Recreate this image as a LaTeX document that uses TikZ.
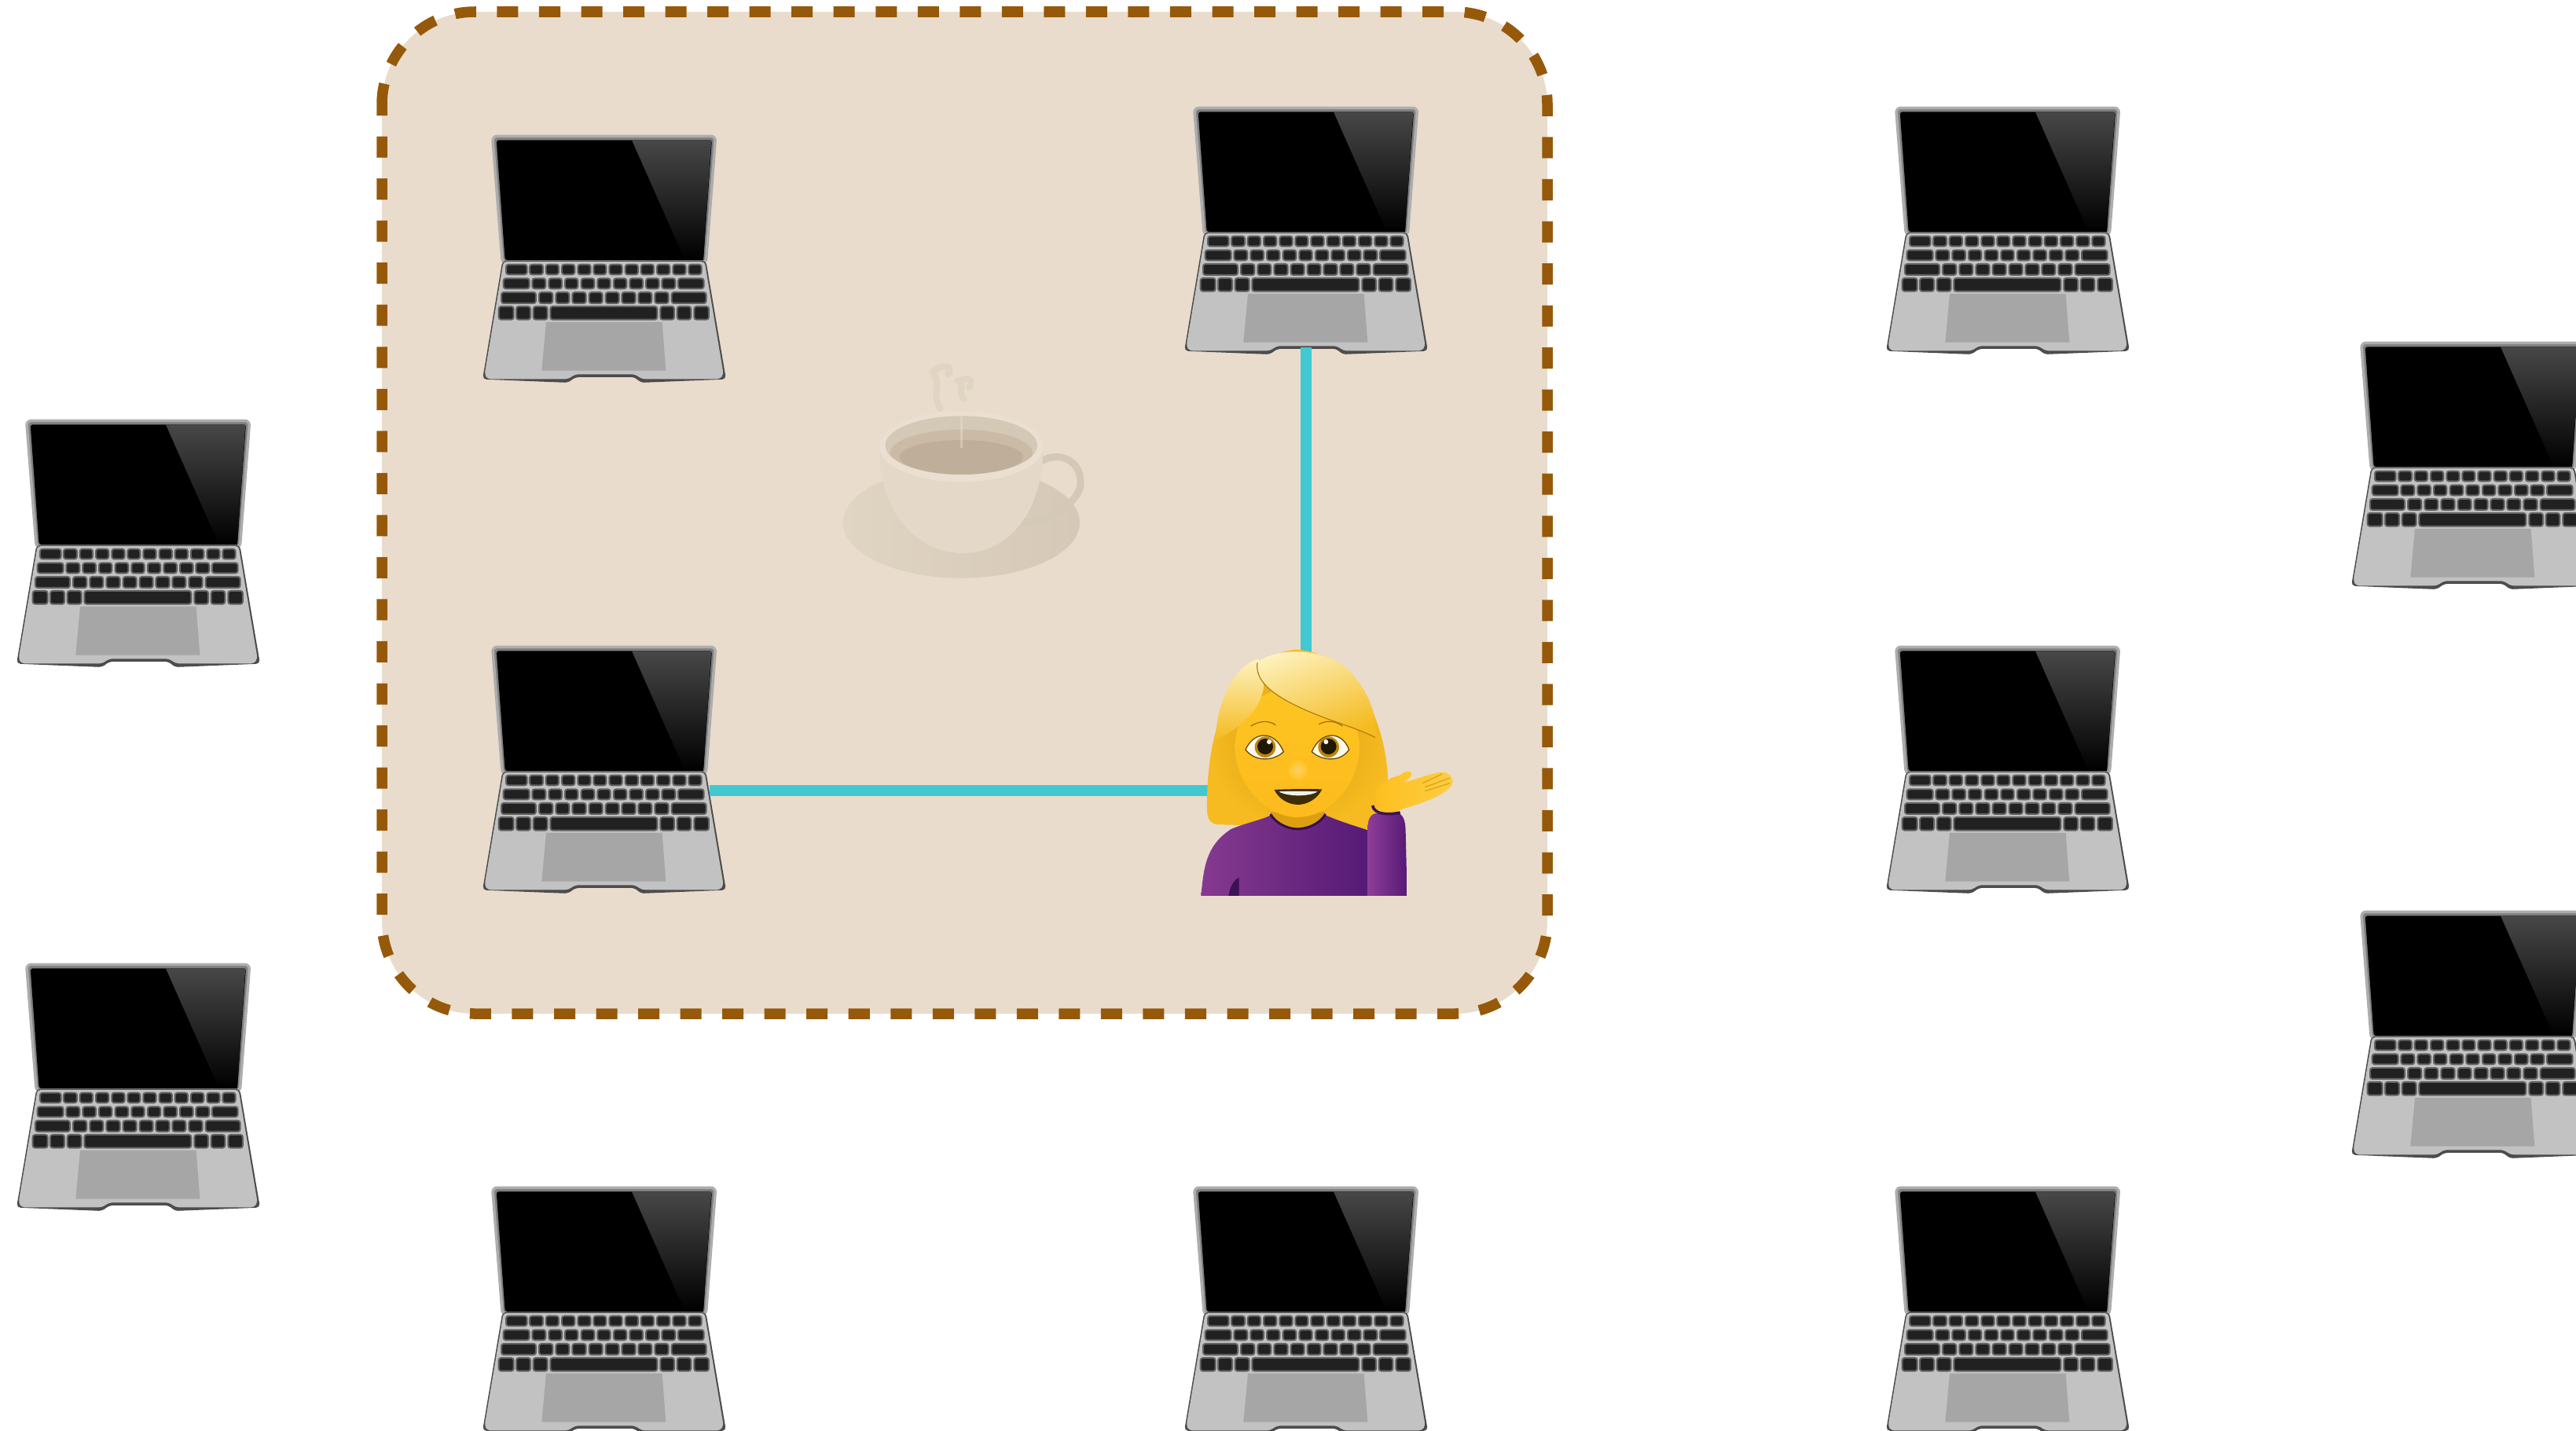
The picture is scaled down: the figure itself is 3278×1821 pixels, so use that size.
\documentclass[tikz,border=0pt]{standalone}
\usepackage{xcolor}
\definecolor{panelfill}{HTML}{E9DCCC}
\definecolor{paneldash}{HTML}{96590A}
\definecolor{linkteal}{HTML}{42C8D0}
\definecolor{hairhi}{HTML}{FDF2C0}
\definecolor{hairmid}{HTML}{F5BB20}
\definecolor{hairlow}{HTML}{DD9F12}
\definecolor{skin}{HTML}{FDC522}
\definecolor{purpleA}{HTML}{A748B3}
\definecolor{purpleB}{HTML}{551A76}
\definecolor{cupedge}{HTML}{E4D8C8}
\definecolor{cupmid}{HTML}{C9BBA8}
\definecolor{cupinner}{HTML}{D4C8B6}
\definecolor{brewA}{HTML}{CBBBA6}
\definecolor{brewB}{HTML}{BFAF9A}
\definecolor{saucerA}{HTML}{E0D4C3}
\definecolor{saucerB}{HTML}{D5C8B6}
\begin{document}
\begin{tikzpicture}[x=0.01cm,y=-0.01cm,
    zoomed/.style={scale=0.3333},
    link/.style={line width=0.135cm,draw=linkteal},
    keycap/.style={fill=black!87,draw=black!62,line width=0.02cm,rounded corners=0.03cm},
    laptop/.pic={
        \coordinate (-base) at (507,955);
        \coordinate (-side) at (909,588);
        \filldraw[fill=black!50,draw=black!32,line width=0.035cm,rounded corners=0.06cm] (80,40) -- (932,40) -- (895,525) -- (118,525) -- cycle;
        \fill[black,rounded corners=0.03cm] (95,55) -- (918,55) -- (885,513) -- (128,513) -- cycle;
        \shade[top color=black!72,bottom color=black] (612,55) -- (916,55) -- (885,513) -- (815,513) -- cycle;
        \fill[black!70,rounded corners=0.05cm] (118,515) -- (895,515) -- (972,968) -- (645,981) -- (625,960) -- (395,960) -- (370,981) -- (42,968) -- cycle;
        \fill[black!24,rounded corners=0.04cm] (122,519) -- (890,519) -- (962,948) -- (950,967) -- (650,967) -- (625,949) -- (395,949) -- (370,967) -- (60,967) -- (50,948) -- cycle;
        \fill[black!35] (285,750) -- (728,750) -- (742,935) -- (268,935) -- cycle;
        \foreach \a/\b in {132/212,222/273,284/333,345/394,406/455,466/514,526/575,587/636,647/696,708/757,769/818,829/878}
            \filldraw[keycap] (\a,530) rectangle (\b,568);
        \foreach \a/\b in {122/221,232/283,295/345,357/406,419/469,481/530,543/592,604/654,666/716,727/778,789/887}
            \filldraw[keycap] (\a,583) rectangle (\b,622);
        \foreach \a/\b in {114/246,258/310,322/373,385/437,449/500,512/563,574/626,637/688,700/752,764/896}
            \filldraw[keycap] (\a,636) rectangle (\b,678);
        \foreach \a/\b in {104/161,171/225,236/290,301/709,721/774,785/838,850/906}
            \filldraw[keycap] (\a,690) rectangle (\b,740);
    },
    coffee/.pic={
        \shade[left color=saucerA,right color=saucerB] (550,705) ellipse (452 and 212);
        \draw[cupinner,line width=0.09cm,line cap=round] (855,470) .. controls (930,430) and (1010,470) .. (1005,560) .. controls (1000,630) and (880,700) .. (790,705);
        \shade[left color=cupedge,middle color=cupmid,right color=cupedge] (238,430) .. controls (235,650) and (370,822) .. (555,822) .. controls (740,822) and (860,650) .. (862,430) -- cycle;
        \fill[panelfill!90!white] (550,415) ellipse (314 and 135);
        \fill[cupinner] (550,410) ellipse (290 and 112);
        \begin{scope}
            \clip (550,410) ellipse (290 and 112);
            \fill[brewA] (550,440) ellipse (272 and 90);
            \fill[brewB] (550,455) ellipse (235 and 65);
        \end{scope}
        \draw[cupinner,line width=0.08cm,line cap=round,opacity=.4] (470,270) .. controls (430,200) and (480,190) .. (440,130) .. controls (480,100) and (520,100) .. (500,140);
        \draw[cupinner,line width=0.08cm,line cap=round,opacity=.4] (560,235) .. controls (530,190) and (570,200) .. (540,165) .. controls (570,150) and (600,150) .. (580,190);
        \draw[panelfill,line width=0.03cm,opacity=.5] (550,300) -- (550,420);
    },
    woman/.pic={
        \shade[inner color=hairlow,outer color=hairmid] (500,80) .. controls (700,80) and (840,300) .. (858,560) .. controls (860,640) and (820,700) .. (780,765) -- (300,750) -- (210,748) .. controls (180,745) and (168,725) .. (168,690) .. controls (165,450) and (220,130) .. (500,80) -- cycle;
        \shade[left color=purpleA!80!black,middle color=purpleA,right color=purpleB] (145,1020) .. controls (155,920) and (160,830) .. (260,765) .. controls (320,740) and (380,730) .. (420,708) -- (610,708) .. controls (660,730) and (720,750) .. (785,770) -- (785,1020) -- cycle;
        \fill[purpleB!70!black] (250,1020) .. controls (255,985) and (270,960) .. (290,950) -- (290,1020) -- cycle;
        \fill[hairlow] (408,700) .. controls (430,745) and (480,768) .. (512,768) .. controls (550,768) and (600,745) .. (622,700) -- cycle;
        \draw[purpleB!60!black,line width=0.03cm] (410,708) .. controls (430,745) and (480,765) .. (512,765) .. controls (550,765) and (600,745) .. (620,708);
        \shade[top color=skin,bottom color=skin!85!orange] (275,450) .. controls (275,600) and (400,720) .. (512,720) .. controls (640,720) and (750,590) .. (750,450) .. controls (750,300) and (600,220) .. (512,220) .. controls (400,220) and (275,300) .. (275,450) -- cycle;
        \shade[top color=hairhi,middle color=hairmid,bottom color=hairmid] (365,115) .. controls (270,140) and (205,280) .. (200,425) .. controls (290,380) and (370,320) .. (385,220) -- cycle;
        \shade[top color=hairhi,middle color=hairmid,bottom color=hairmid,shading angle=20] (360,130) .. controls (420,75) and (620,60) .. (720,170) .. controls (790,250) and (820,340) .. (810,415) .. controls (720,370) and (620,350) .. (500,290) .. controls (420,250) and (350,200) .. (360,130) -- cycle;
        \draw[hairlow!80!black,line width=0.012cm] (360,130) .. controls (350,200) and (420,250) .. (500,290) .. controls (620,350) and (720,370) .. (810,415);
        \draw[hairlow!70!black,line width=0.012cm] (335,372) .. controls (370,350) and (405,350) .. (430,368);
        \draw[hairlow!70!black,line width=0.012cm] (595,365) .. controls (625,348) and (660,352) .. (685,372);
        \filldraw[fill=white!90!skin,draw=black!60!hairlow,line width=0.012cm] (315,462) .. controls (345,392) and (425,385) .. (460,470) .. controls (420,508) and (350,508) .. (315,462) -- cycle;
        \filldraw[fill=white!90!skin,draw=black!60!hairlow,line width=0.012cm] (568,470) .. controls (605,385) and (685,392) .. (710,462) .. controls (680,508) and (610,508) .. (568,470) -- cycle;
        \fill[hairlow!85!black] (390,452) circle (40);
        \fill[black!85!hairlow] (390,450) circle (30);
        \fill[white] (405,432) circle (9);
        \fill[hairlow!85!black] (632,452) circle (40);
        \fill[black!85!hairlow] (632,450) circle (30);
        \fill[white] (622,432) circle (9);
        \shade[inner color=skin!60!white!85!orange,outer color=skin] (515,540) circle (38);
        \fill[black!72!hairlow] (425,615) .. controls (470,612) and (560,612) .. (607,613) .. controls (590,650) and (550,672) .. (515,672) .. controls (480,672) and (440,650) .. (425,615) -- cycle;
        \fill[white!94!black] (442,622) .. controls (490,620) and (540,620) .. (590,622) .. controls (560,642) and (475,642) .. (442,622) -- cycle;
        \shade[left color=skin!92!orange,right color=skin!85!white] (810,630) .. controls (825,590) and (860,570) .. (905,560) .. controls (930,535) and (960,545) .. (945,565) .. controls (935,575) and (925,582) .. (920,585) .. controls (960,580) and (1010,555) .. (1060,548) .. controls (1085,545) and (1110,565) .. (1105,590) .. controls (1090,630) and (1010,660) .. (910,690) .. controls (880,710) and (830,710) .. (815,680) -- cycle;
        \draw[hairlow,line width=0.012cm] (990,590) -- (1065,555);
        \draw[hairlow,line width=0.012cm] (1000,605) -- (1095,570);
        \draw[hairlow,line width=0.012cm] (1000,620) -- (1095,590);
        \shade[left color=purpleA!85!black,right color=purpleB] (782,1020) -- (782,750) .. controls (785,715) and (800,702) .. (830,705) -- (890,702) .. controls (915,705) and (925,730) .. (926,770) -- (932,1020) -- cycle;
        \draw[purpleB!70!black,line width=0.035cm] (800,675) .. controls (805,710) and (860,712) .. (905,702);
    }]
    \useasboundingbox (0,0) rectangle (3278,1821);
    \clip (0,0) rectangle (3278,1821);
    \draw[fill=panelfill,draw=paneldash,line width=0.135cm,dash pattern=on 0.27cm off 0.265cm,dash phase=0.13cm,rounded corners=1.18cm] (486,15) rectangle (1969,1290);
    \foreach \name/\x/\y in {lapA/600/160,lapB/1493/124,lapC/2386/124,lapD/2978/423,lapE/7/522,lapF/600/810,lapG/2386/810,lapH/2978/1147,lapI/7/1214,lapJ/600/1498,lapK/1493/1498,lapL/2386/1498}
        \pic[zoomed] (\name) at (\x,\y) {laptop};
    \draw[link] (lapF-side) -| (lapB-base);
    \pic[zoomed] (cup) at (1040,430) {coffee};
    \pic[zoomed] (girl) at (1480,800) {woman};
\end{tikzpicture}
\end{document}
